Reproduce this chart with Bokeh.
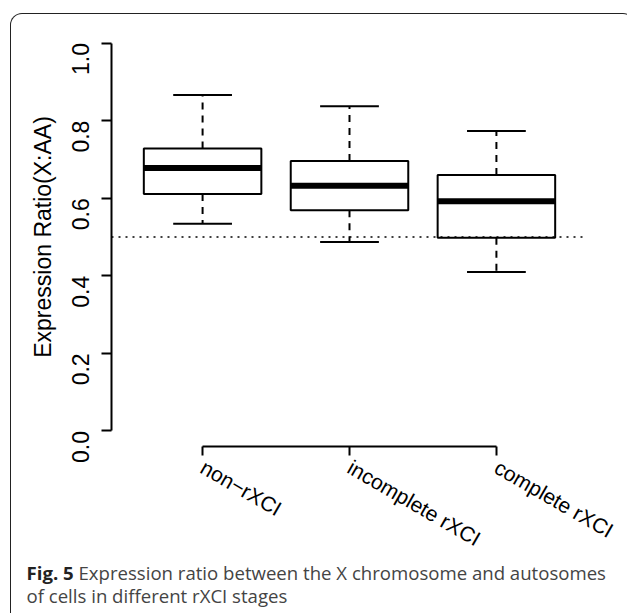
import math
from bokeh.plotting import figure
from bokeh.layouts import column
from bokeh.models import (FixedTicker, Span, ColumnDataSource, LinearAxis, Range1d, Div)
from bokeh.embed import file_html
from bokeh.resources import INLINE

# ---- data ----
categories = ["non\u2212rXCI", "incomplete rXCI", "complete rXCI"]
positions = [1, 2, 3]
lower_whisker = [0.534, 0.487, 0.410]
q1 = [0.611, 0.569, 0.498]
median = [0.678, 0.632, 0.592]
q3 = [0.728, 0.696, 0.660]
upper_whisker = [0.866, 0.837, 0.773]
y_ticks = [0.0, 0.2, 0.4, 0.6, 0.8, 1.0]
ref_line = 0.5
y_label = "Expression Ratio(X:AA)"
caption_bold = "Fig. 5"
caption_line1 = "Expression ratio between the X chromosome and autosomes"
caption_line2 = "of cells in different rXCI stages"

BOX_W = 0.8
CAP_W = 0.4
FONT = "Liberation Sans"

W, H = 614, 562
FL, FR, FT, FB = 100, 38, 13, 130

p = figure(width=W, height=H, output_backend="svg", toolbar_location=None,
           x_range=Range1d(0.38, 3.62), y_range=Range1d(-0.04, 1.04),
           x_axis_location=None, y_axis_location=None,
           min_border_left=FL, min_border_right=FR, min_border_top=FT, min_border_bottom=FB)
p.outline_line_color = None
p.xgrid.visible = False
p.ygrid.visible = False
p.background_fill_color = None
p.border_fill_color = None

# axes
ya = LinearAxis(ticker=FixedTicker(ticks=y_ticks), bounds=(0, 1),
                major_label_overrides={t: f"{t:.1f}" for t in y_ticks})
ya.axis_label = y_label
ya.axis_label_text_font = FONT
ya.axis_label_text_font_size = "23px"
ya.axis_label_text_font_style = "normal"
ya.axis_label_text_color = "black"
ya.axis_label_standoff = 5
ya.major_label_text_font = FONT
ya.major_label_text_font_size = "23px"
ya.major_label_text_color = "black"
ya.major_label_orientation = math.pi / 2
ya.major_label_standoff = 21
ya.axis_line_width = 2
ya.major_tick_line_width = 2
ya.major_tick_out = 10
ya.major_tick_in = 0
ya.minor_tick_line_color = None
p.add_layout(ya, "left")

xa = LinearAxis(ticker=FixedTicker(ticks=positions), bounds=(positions[0], positions[-1]),
                major_label_overrides={pp: c for pp, c in zip(positions, categories)})
xa.major_label_text_font = FONT
xa.major_label_text_font_size = "21px"
xa.major_label_text_color = "black"
xa.major_label_orientation = -math.pi / 6
xa.major_label_standoff = 10
xa.axis_line_width = 2
xa.major_tick_line_width = 2
xa.major_tick_out = 9
xa.major_tick_in = 0
xa.minor_tick_line_color = None
p.add_layout(xa, "below")

src = ColumnDataSource(dict(x=positions, lw=lower_whisker, q1=q1, med=median, q3=q3,
                            uw=upper_whisker,
                            cl=[x - CAP_W / 2 for x in positions],
                            cr=[x + CAP_W / 2 for x in positions],
                            bl=[x - BOX_W / 2 for x in positions],
                            br=[x + BOX_W / 2 for x in positions]))

# whiskers (dashed)
p.segment(x0="x", y0="q3", x1="x", y1="uw", source=src, line_color="black",
          line_width=2, line_dash="7 6")
p.segment(x0="x", y0="q1", x1="x", y1="lw", source=src, line_color="black",
          line_width=2, line_dash="7 6")
# caps
p.segment(x0="cl", y0="uw", x1="cr", y1="uw", source=src, line_color="black", line_width=2)
p.segment(x0="cl", y0="lw", x1="cr", y1="lw", source=src, line_color="black", line_width=2)
# boxes
p.quad(left="bl", right="br", bottom="q1", top="q3", source=src, fill_color="white",
       line_color="black", line_width=2)
# medians
p.segment(x0="bl", y0="med", x1="br", y1="med", source=src, line_color="black",
          line_width=6, line_cap="butt")

# reference line
p.add_layout(Span(location=ref_line, dimension="width", line_color="black",
                  line_width=1.5, line_dash="2 5"))

cap = Div(
    text=(f"<div style='white-space:nowrap'><b style='color:#222222'>{caption_bold}</b> "
          f"{caption_line1}<br>{caption_line2}</div>"),
    width=613, height=51,
    styles={"font-family": "'Open Sans', sans-serif", "font-size": "18.6px",
            "color": "#444444", "line-height": "23px", "padding-left": "10.5px",
            "margin-top": "-15px", "box-sizing": "border-box"})

layout = column(p, cap, spacing=0, margin=(13, 0, 0, 10),
                styles={"border": "1.5px solid #222222", "border-bottom": "none",
                        "border-radius": "12px 12px 0 0", "background": "white"})

open("out.html", "w").write(file_html(layout, INLINE))
